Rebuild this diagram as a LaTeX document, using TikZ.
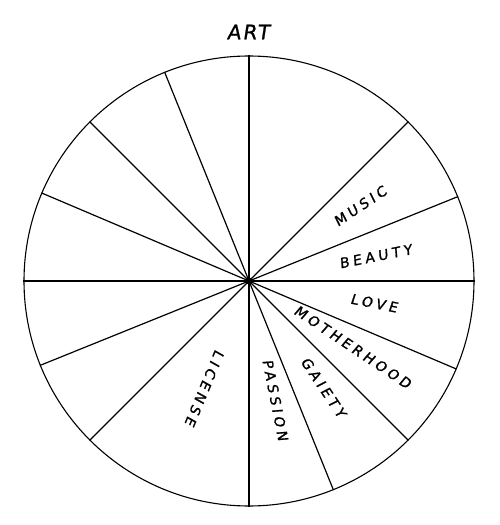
\documentclass[tikz,border=0pt]{standalone}
\usepackage{fontspec}
\usepackage{tikz}
\newfontfamily\letterfont[LetterSpace=26,FakeSlant=0.12,FakeBold=1.2]{DejaVu Sans}
\newfontfamily\titlefont[LetterSpace=10,FakeSlant=0.15,FakeBold=1.2]{DejaVu Sans}

\begin{document}
\begin{tikzpicture}[
    x=1pt, y=1pt,
    wheel/.style={draw=black, circle, minimum size=450pt, inner sep=0pt, line width=1.1pt},
    spoke/.style={line width=1.2pt},
    label/.style={font=\letterfont\fontsize{14}{16}\selectfont, inner sep=0pt},
    title/.style={font=\titlefont\fontsize{20}{22}\selectfont, inner sep=0pt}
]
\useasboundingbox (-249,-244) rectangle (251,281);

\node[wheel] (wheel) at (0,0) {};
\node[title] (art) at (-1,249) {ART};

\draw[spoke] (wheel.center) -- (wheel.0);
\draw[spoke] (wheel.center) -- (wheel.22.5);
\draw[spoke] (wheel.center) -- (wheel.45);
\draw[spoke] (wheel.center) -- (wheel.90);
\draw[spoke] (wheel.center) -- (wheel.112.5);
\draw[spoke] (wheel.center) -- (wheel.135);
\draw[spoke] (wheel.center) -- (wheel.157.5);
\draw[spoke] (wheel.center) -- (wheel.180);
\draw[spoke] (wheel.center) -- (wheel.202.5);
\draw[spoke] (wheel.center) -- (wheel.225);
\draw[spoke] (wheel.center) -- (wheel.270);
\draw[spoke] (wheel.center) -- (wheel.292.5);
\draw[spoke] (wheel.center) -- (wheel.315);
\draw[spoke] (wheel.center) -- (wheel.337.5);
\fill (wheel.center) circle (3.5pt);

\node[label, rotate=33.75] (music) at (34:134) {MUSIC};
\node[label, rotate=11.25] (beauty) at (11:129) {BEAUTY};
\node[label, rotate=-11.25] (love) at (-10:127) {LOVE};
\node[label, rotate=-33.75] (motherhood) at (-32.5:123) {MOTHERHOOD};
\node[label, rotate=-56.25] (gaiety) at (-55:130) {GAIETY};
\node[label, rotate=-78.75] (passion) at (-77.5:122) {PASSION};
\node[label, rotate=247.5] (license) at (247.5:116) {LICENSE};
\end{tikzpicture}
\end{document}
